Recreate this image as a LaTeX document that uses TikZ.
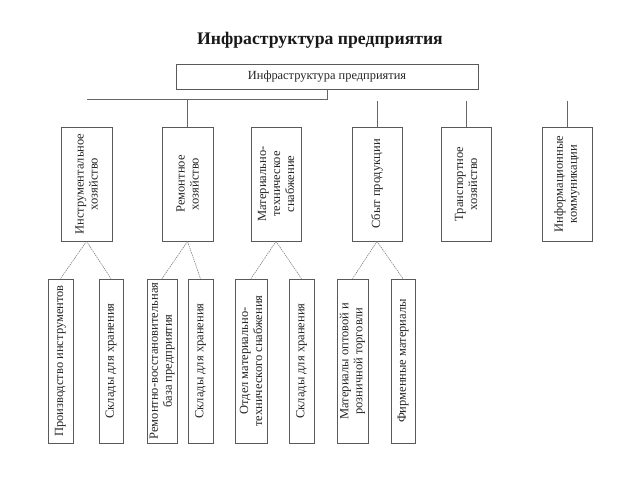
\documentclass[tikz,border=0pt]{standalone}
\usepackage{fontspec}
\setmainfont{Liberation Serif}
\begin{document}
\begin{tikzpicture}[x=1pt,y=-1pt,
  box/.style={draw=black!65, line width=0.7pt, fill=white, inner sep=0pt},
  txt/.style={rotate=90, align=center, text=black!85, font=\fontsize{12.5}{14}\selectfont, inner sep=0pt},
  conn/.style={draw=black!60, line width=0.7pt},
  sub/.style={draw=black!55, line width=0.5pt, dash pattern=on 1.5pt off 0.8pt}]
\useasboundingbox (0,0) rectangle (640,480);
\node[font=\fontsize{17.7}{20}\selectfont\bfseries, text=black!90] (title) at (320,40) {Инфраструктура предприятия};
\node[box, minimum width=302pt, minimum height=25pt, font=\fontsize{12.4}{14}\selectfont, text=black!85] (top) at (327,76.5) {Инфраструктура предприятия};
% level 1
\foreach \n/\x/\w in {b1/86.5/51, b2/187.5/51, b3/276/50, b4/377/50, b5/466/50, b6/567/50}
  \node[box, minimum width=\w pt, minimum height=114pt] (\n) at (\x,184) {};
\node[txt] at (b1) {Инструментальное\\хозяйство};
\node[txt] at (b2) {Ремонтное\\хозяйство};
\node[txt] at (b3) {Материально-\\техническое\\снабжение};
\node[txt] at (b4) {Сбыт продукции};
\node[txt] at (b5) {Транспортное\\хозяйство};
\node[txt] at (b6) {Информационные\\коммуникации};
% level 2
\foreach \n/\x/\w in {c1/60.5/25, c2/111/24, c3/162/30, c4/200.5/25, c5/251/32, c6/301.5/25, c7/352.5/31, c8/403/24}
  \node[box, minimum width=\w pt, minimum height=164pt] (\n) at (\x,361) {};
\node[txt] at (c1) {Производство инструментов};
\node[txt] at (c2) {Склады для хранения};
\node[txt] at (c3) {Ремонтно-восстановительная\\база предприятия};
\node[txt] at (c4) {Склады для хранения};
\node[txt] at (c5) {Отдел материально-\\технического снабжения};
\node[txt] at (c6) {Склады для хранения};
\node[txt] at (c7) {Материалы оптовой и\\розничной торговли};
\node[txt] at (c8) {Фирменные материалы};
% connectors
\coordinate (hl) at (87,99);
\coordinate (hj) at (187.5,99);
\coordinate (s4) at (377,101);
\coordinate (s5) at (466,101);
\coordinate (s6) at (567,101);
\draw[conn] (top.south) |- (hl);
\draw[conn] (hj) -- (b2.north);
\draw[conn] (s4) -- (b4.north);
\draw[conn] (s5) -- (b5.north);
\draw[conn] (s6) -- (b6.north);
\draw[sub] (b1.south) -- (c1.north);
\draw[sub] (b1.south) -- (c2.north);
\draw[sub] (b2.south) -- (c3.north);
\draw[sub] (b2.south) -- (c4.north);
\draw[sub] (b3.south) -- (c5.north);
\draw[sub] (b3.south) -- (c6.north);
\draw[sub] (b4.south) -- (c7.north);
\draw[sub] (b4.south) -- (c8.north);
\end{tikzpicture}
\end{document}
